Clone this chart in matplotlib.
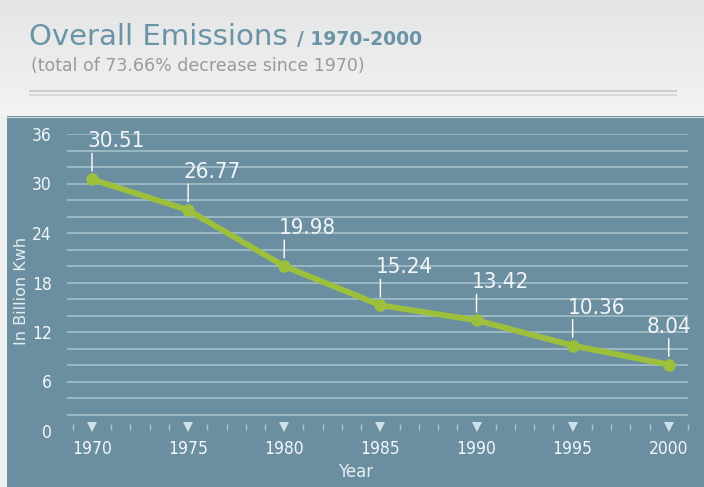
import numpy as np
import matplotlib.pyplot as plt
from matplotlib import font_manager
from matplotlib.patches import Rectangle
from matplotlib.colors import LinearSegmentedColormap
from matplotlib.ticker import FixedLocator, MultipleLocator

years = [1970, 1975, 1980, 1985, 1990, 1995, 2000]
emissions = [30.51, 26.77, 19.98, 15.24, 13.42, 10.36, 8.04]
value_labels = ['30.51', '26.77', '19.98', '15.24', '13.42', '10.36', '8.04']
y_ticks = [0, 6, 12, 18, 24, 30, 36]

title = 'Overall Emissions'
title_range = '/ 1970-2000'
subtitle = '(total of 73.66% decrease since 1970)'

PANEL = '#6b8fa1'
GREEN = '#9cc03c'
GRID = '#a9c2ce'
TEXT_LIGHT = '#f2f6f8'

# pick a narrow face for the numbers if one is around
installed = {(f.name, f.stretch) for f in font_manager.fontManager.ttflist}
if any(n == 'DejaVu Sans' and s == 'condensed' for n, s in installed):
    NUM = dict(family='DejaVu Sans', stretch='condensed')
else:
    NUM = dict(family='Roboto')

W, H = 704, 487
fig = plt.figure(figsize=(W / 100, H / 100), dpi=100)
fig.patch.set_facecolor('#eef0f0')

# background canvas in pixel units (y down)
bg = fig.add_axes([0, 0, 1, 1], zorder=-1)
bg.set_xlim(0, W)
bg.set_ylim(H, 0)
bg.axis('off')
grad = np.linspace(0, 1, 64)[:, None]
bg.imshow(grad, cmap=LinearSegmentedColormap.from_list('hdr', ['#e4e5e6', '#f3f3f3']),
          extent=(0, W, 116, 0), aspect='auto')
bg.add_patch(Rectangle((7, 116), W - 7, H - 116, color=PANEL, lw=0))
bg.plot([7, W], [116.5, 116.5], color='#d5ddd6', lw=0.8)
bg.plot([30, 676], [90.5, 90.5], color='#c9c9c9', lw=1.3)
bg.plot([30, 676], [94.5, 94.5], color='#d6d6d6', lw=1.3)

bg.text(29, 45, title, fontsize=21, color='#6a93a6', va='baseline')
bg.text(297, 45, title_range, fontsize=13.5, color='#6a93a6',
        fontweight='bold', va='baseline')
bg.text(31, 71, subtitle, fontsize=12.5, color='#9a9a9a', va='baseline')

# chart
ax = fig.add_axes([67 / W, (H - 431) / H, 621 / W, 297 / H])
ax.set_facecolor('none')
ax.set_xlim(1968.7, 2001.0)
ax.set_ylim(0, 36)
for s in ['top', 'right', 'left']:
    ax.spines[s].set_visible(False)
ax.spines['bottom'].set_position(('data', 0.45))
ax.spines['bottom'].set_visible(False)

ax.yaxis.set_major_locator(FixedLocator(y_ticks))
ax.yaxis.set_minor_locator(FixedLocator(np.arange(2, 37, 2)))
ax.yaxis.remove_overlapping_locs = False
ax.grid(axis='y', which='minor', color=GRID, lw=1.1)
ax.tick_params(axis='y', which='both', length=0, pad=11,
               labelcolor=TEXT_LIGHT, labelsize=12.5)
for lab in ax.get_yticklabels():
    lab.update(NUM)

ax.set_xticks(years)
ax.xaxis.set_minor_locator(MultipleLocator(1))
ax.tick_params(axis='x', which='major', length=6, pad=3, color='#cfe2ea',
               labelcolor=TEXT_LIGHT, labelsize=12.5)
ax.tick_params(axis='x', which='minor', length=4, width=1, color='#a9c4cf')
for lab in ax.get_xticklabels():
    lab.update(NUM)
for t in ax.xaxis.get_major_ticks():
    t.tick1line.set_marker('v')
    t.tick1line.set_markersize(7)
    t.tick1line.set_markeredgewidth(0)
for t in ax.xaxis.get_minor_ticks():
    t.tick1line.set_marker('|')

ax.plot(years, emissions, color=GREEN, lw=4.2, marker='o', ms=8,
        solid_capstyle='round', zorder=3)

for i, (x, y, lab) in enumerate(zip(years, emissions, value_labels)):
    ax.annotate('', xy=(x, y), xytext=(0, 26), textcoords='offset pixels',
                arrowprops=dict(arrowstyle='-', color='white', lw=1,
                                shrinkA=0, shrinkB=6))
    last = i == len(years) - 1
    ax.annotate(lab, xy=(x, y), xytext=(0 if last else -5, 28),
                textcoords='offset pixels', ha='center' if last else 'left',
                va='bottom', fontsize=16, color=TEXT_LIGHT, **NUM)

ax.set_xlabel('Year', fontsize=12, color='#e4eef2', va='center')
ax.xaxis.set_label_coords(0.464, -0.138)
ax.set_ylabel('In Billion Kwh', fontsize=11.5, color='#e4eef2', va='center')
ax.yaxis.set_label_coords(-0.074, 0.471)

fig.savefig('out.png', dpi=100)
